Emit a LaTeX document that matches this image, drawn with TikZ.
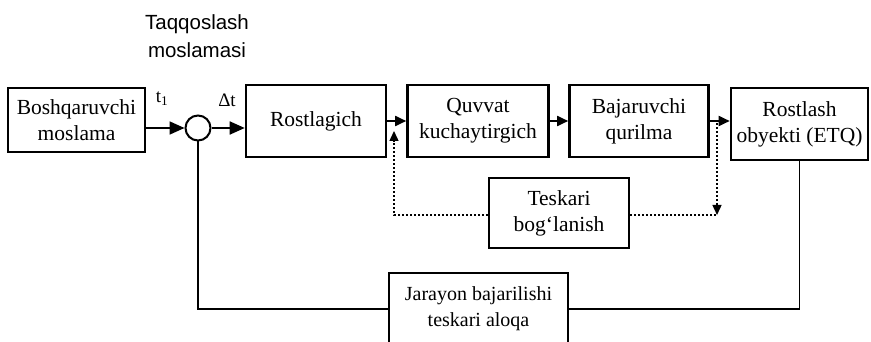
\documentclass[tikz,border=0pt]{standalone}
\usepackage{fontspec}
\setmainfont{Liberation Serif}
\newfontfamily\labfont{Liberation Sans}
\usetikzlibrary{arrows.meta}

\begin{document}
\begin{tikzpicture}[x=1pt,y=-1pt,
    bnode/.style={draw,line width=2.6pt,align=center,inner sep=0pt,font=\fontsize{21.5}{26}\selectfont},
    cnode/.style={draw,circle,line width=2pt,minimum size=25pt,inner sep=0pt},
    big/.style={line width=1.8pt,-{Triangle[length=15pt,width=13pt]}},
    sml/.style={line width=1.8pt,-{Triangle[length=11pt,width=10pt]}},
    fb/.style={line width=1.4pt,dash pattern=on 2pt off 2pt}]
    \useasboundingbox (0,0) rectangle (871,342);

    \node[font=\labfont\fontsize{20.5}{28}\selectfont,align=center] (cmpl) at (197,36) {Taqqoslash\\moslamasi};
    \node[bnode,minimum width=137pt,minimum height=64pt] (ctl) at (76.5,120) {Boshqaruvchi\\moslama};
    \node[cnode] (cmp) at (198,128) {};
    \node[bnode,minimum width=140pt,minimum height=72pt] (reg) at (316,121) {Rostlagich};
    \node[bnode,minimum width=141pt,minimum height=72pt] (amp) at (478,121) {Quvvat\\kuchaytirgich};
    \node[bnode,minimum width=139pt,minimum height=72pt] (act) at (639,121) {Bajaruvchi\\qurilma};
    \node[bnode,minimum width=137pt,minimum height=72pt] (obj) at (799.5,124) {Rostlash\\obyekti (ETQ)};
    \node[bnode,minimum width=140pt,minimum height=70pt] (tesk) at (559,213) {Teskari\\bog‘lanish};
    \node[bnode,minimum width=179pt,minimum height=72pt,font=\fontsize{20}{26}\selectfont] (jar) at (478.5,309) {Jarayon bajarilishi\\teskari aloqa};

    \node[font=\fontsize{19}{19}\selectfont] (t1) at (162,99) {t\textsubscript{1}};
    \node[font=\fontsize{19}{19}\selectfont] (dt) at (227,100) {Δt};

    \coordinate (fbin) at (394,131);
    \coordinate (fbout) at (717,123);
    \coordinate (fbc) at (717,215);

    \draw[big] (ctl.east |- cmp) -- (cmp);
    \draw[big] (cmp) -- (reg.west |- cmp);
    \draw[sml] (reg.east |- amp.west) -- (amp.west);
    \draw[sml] (amp) -- (act);
    \draw[sml] (act.east) -- (obj.west |- act.east);

    \draw[line width=1.2pt] (obj.south) |- (jar.east);
    \draw[line width=1.2pt] (jar.west) -| (cmp.south);

    \draw[fb,-{Triangle[length=10pt,width=9pt]}] (tesk.west |- fbc) -| (fbin);
    \draw[fb,-{Triangle[length=10pt,width=9pt]}] (fbout) -- (fbc);
    \draw[fb] (tesk.east |- fbc) -- (fbc);
\end{tikzpicture}
\end{document}
